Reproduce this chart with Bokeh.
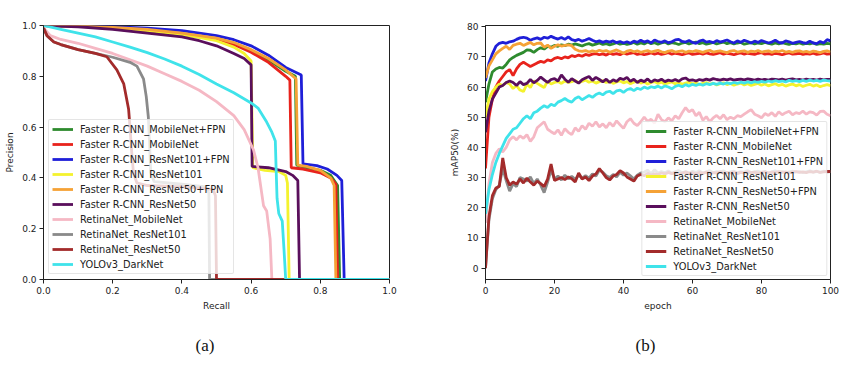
from bokeh.plotting import figure
from bokeh.layouts import row
from bokeh.models import Range1d, FixedTicker, Title
from bokeh.embed import file_html
from bokeh.resources import INLINE

names = ["Faster R-CNN_MobileNet+FPN", "Faster R-CNN_MobileNet", "Faster R-CNN_ResNet101+FPN",
         "Faster R-CNN_ResNet101", "Faster R-CNN_ResNet50+FPN", "Faster R-CNN_ResNet50",
         "RetinaNet_MobileNet", "RetinaNet_ResNet101", "RetinaNet_ResNet50", "YOLOv3_DarkNet"]
colors = ["#2e8b2e", "#e8231c", "#1f1fd8", "#f4f22e", "#f5a236", "#5a0f5c",
          "#f5b8c4", "#8a8a8a", "#a32b2b", "#3fe3ea"]

# ---------- (a) precision-recall curves ----------
pr_mobilenet_fpn_r = [0, 0.1, 0.2, 0.3, 0.4, 0.5, 0.55, 0.6, 0.65, 0.7, 0.728, 0.732, 0.76, 0.8, 0.83, 0.85, 0.856, 1.0]
pr_mobilenet_fpn_p = [1.0, 0.998, 0.992, 0.982, 0.968, 0.948, 0.93, 0.90, 0.865, 0.82, 0.80, 0.45, 0.44, 0.43, 0.41, 0.37, 0.0, 0.0]
pr_mobilenet_r = [0, 0.1, 0.2, 0.3, 0.4, 0.5, 0.55, 0.6, 0.65, 0.7, 0.712, 0.716, 0.75, 0.8, 0.83, 0.845, 0.85, 1.0]
pr_mobilenet_p = [1.0, 0.998, 0.99, 0.98, 0.965, 0.945, 0.925, 0.895, 0.855, 0.80, 0.785, 0.44, 0.435, 0.42, 0.40, 0.375, 0.0, 0.0]
pr_r101_fpn_r = [0, 0.1, 0.2, 0.3, 0.4, 0.45, 0.5, 0.55, 0.6, 0.65, 0.7, 0.73, 0.745, 0.75, 0.79, 0.82, 0.848, 0.862, 0.869, 1.0]
pr_r101_fpn_p = [1.0, 0.998, 0.995, 0.99, 0.98, 0.97, 0.96, 0.944, 0.92, 0.883, 0.835, 0.815, 0.805, 0.455, 0.448, 0.435, 0.41, 0.39, 0.0, 0.0]
pr_r101_r = [0, 0.1, 0.2, 0.3, 0.4, 0.5, 0.55, 0.58, 0.6, 0.605, 0.64, 0.68, 0.70, 0.705, 0.71, 1.0]
pr_r101_p = [1.0, 0.997, 0.99, 0.98, 0.965, 0.94, 0.915, 0.89, 0.86, 0.44, 0.43, 0.425, 0.41, 0.38, 0.0, 0.0]
pr_r50_fpn_r = [0, 0.1, 0.2, 0.3, 0.4, 0.5, 0.55, 0.6, 0.65, 0.7, 0.73, 0.735, 0.76, 0.8, 0.83, 0.84, 0.845, 1.0]
pr_r50_fpn_p = [1.0, 0.998, 0.993, 0.985, 0.97, 0.95, 0.933, 0.905, 0.87, 0.825, 0.79, 0.45, 0.445, 0.43, 0.40, 0.37, 0.0, 0.0]
pr_r50_r = [0, 0.1, 0.2, 0.3, 0.4, 0.45, 0.5, 0.55, 0.58, 0.6, 0.603, 0.65, 0.7, 0.72, 0.735, 0.74, 1.0]
pr_r50_p = [1.0, 0.995, 0.985, 0.97, 0.955, 0.94, 0.92, 0.89, 0.87, 0.845, 0.445, 0.44, 0.425, 0.41, 0.39, 0.0, 0.0]
pr_ret_mobilenet_r = [0, 0.02, 0.05, 0.1, 0.15, 0.2, 0.25, 0.3, 0.35, 0.4, 0.45, 0.5, 0.55, 0.58, 0.607, 0.62, 0.636, 0.645, 0.655, 0.66, 1.0]
pr_ret_mobilenet_p = [0.99, 0.96, 0.945, 0.93, 0.91, 0.89, 0.865, 0.84, 0.81, 0.78, 0.745, 0.70, 0.645, 0.59, 0.51, 0.44, 0.29, 0.27, 0.16, 0.0, 0.0]
pr_ret_r101_r = [0, 0.01, 0.03, 0.05, 0.1, 0.15, 0.2, 0.25, 0.27, 0.289, 0.297, 0.303, 0.307, 0.31, 0.32, 0.4, 0.47, 0.478, 0.48, 1.0]
pr_ret_r101_p = [0.99, 0.96, 0.935, 0.925, 0.905, 0.89, 0.875, 0.855, 0.84, 0.79, 0.72, 0.64, 0.52, 0.42, 0.385, 0.375, 0.365, 0.34, 0.0, 0.0]
pr_ret_r50_r = [0, 0.01, 0.03, 0.05, 0.1, 0.15, 0.183, 0.212, 0.232, 0.246, 0.25, 0.255, 0.26, 0.27, 0.3, 0.4, 0.49, 0.497, 0.5, 1.0]
pr_ret_r50_p = [0.99, 0.96, 0.935, 0.925, 0.905, 0.89, 0.877, 0.825, 0.77, 0.67, 0.60, 0.50, 0.42, 0.38, 0.37, 0.365, 0.355, 0.33, 0.0, 0.0]
pr_yolo_r = [0, 0.05, 0.1, 0.15, 0.2, 0.25, 0.3, 0.35, 0.4, 0.45, 0.5, 0.55, 0.6, 0.62, 0.645, 0.66, 0.67, 0.672, 0.675, 0.68, 0.69, 0.695, 0.70, 1.0]
pr_yolo_p = [1.0, 0.985, 0.97, 0.955, 0.935, 0.915, 0.893, 0.868, 0.84, 0.807, 0.77, 0.735, 0.695, 0.675, 0.62, 0.58, 0.545, 0.45, 0.32, 0.26, 0.23, 0.12, 0.0, 0.0]

pr_recall = [pr_mobilenet_fpn_r, pr_mobilenet_r, pr_r101_fpn_r, pr_r101_r, pr_r50_fpn_r,
             pr_r50_r, pr_ret_mobilenet_r, pr_ret_r101_r, pr_ret_r50_r, pr_yolo_r]
pr_precision = [pr_mobilenet_fpn_p, pr_mobilenet_p, pr_r101_fpn_p, pr_r101_p, pr_r50_fpn_p,
                pr_r50_p, pr_ret_mobilenet_p, pr_ret_r101_p, pr_ret_r50_p, pr_yolo_p]

ticks_a = [0, 0.2, 0.4, 0.6, 0.8, 1.0]
tick_labels_a = ["0.0", "0.2", "0.4", "0.6", "0.8", "1.0"]

# ---------- (b) mAP50 per epoch ----------
epochs = list(range(0, 101))
map_mobilenet_fpn = [
    55.0, 61.0, 65.0, 66.0, 66.5, 66.3, 67.5, 69.0, 69.8, 70.5,
    71.0, 71.5, 72.3, 72.2, 71.5, 72.4, 73.0, 72.6, 73.5, 73.2,
    73.8, 73.5, 74.0, 73.7, 74.2, 73.9, 74.3, 74.0, 73.6, 74.1,
    74.4, 73.9, 74.2, 74.6, 74.1, 74.4, 74.0, 74.3, 74.7, 74.2,
    74.5, 74.1, 74.4, 74.8, 74.2, 74.6, 74.3, 74.9, 74.4, 74.7,
    74.2, 74.6, 74.9, 74.3, 74.7, 74.5, 74.1, 74.6, 74.8, 74.3,
    74.6, 74.9, 74.4, 74.7, 74.2, 74.5, 74.8, 74.3, 74.6, 74.9,
    74.4, 74.7, 74.3, 74.6, 74.8, 74.2, 74.5, 74.7, 74.3, 74.6,
    74.4, 74.8, 74.5, 74.2, 74.6, 74.3, 74.7, 74.4, 74.1, 74.5,
    74.3, 74.6, 74.2, 74.5, 74.3, 74.6, 74.1, 74.4, 74.2, 74.5,
    74.3]
map_mobilenet = [
    33.0, 50.0, 56.0, 60.0, 62.0, 63.5, 65.0, 65.8, 63.8, 66.0,
    67.5, 68.2, 67.5, 66.8, 67.4, 68.0, 68.5, 68.2, 69.0, 68.7,
    69.5, 69.8, 69.4, 70.0, 69.7, 70.4, 70.1, 70.6, 70.2, 70.8,
    70.5, 70.9, 71.1, 70.7, 71.0, 70.6, 71.2, 70.8, 71.1, 70.7,
    71.3, 70.9, 71.2, 71.4, 70.8, 71.1, 70.7, 71.0, 71.3, 70.9,
    71.2, 70.8, 71.1, 71.4, 70.9, 71.2, 71.0, 70.7, 71.1, 71.3,
    70.8, 71.0, 71.2, 70.9, 71.3, 71.0, 70.8, 71.1, 71.4, 70.9,
    71.2, 71.0, 70.7, 71.1, 71.3, 70.9, 71.2, 71.0, 70.8, 71.2,
    71.4, 70.9, 71.1, 70.8, 71.2, 71.0, 70.7, 71.1, 71.3, 70.9,
    71.0, 71.2, 70.8, 71.1, 70.9, 71.2, 70.8, 71.0, 71.3, 70.9,
    71.0]
map_r101_fpn = [
    62.0, 68.0, 71.0, 73.5, 74.5, 74.8, 74.5, 75.0, 75.2, 75.8,
    76.3, 76.5, 76.2, 75.5, 76.0, 76.3, 75.8, 76.5, 76.2, 76.8,
    76.3, 75.9, 76.4, 75.8, 76.6, 75.7, 75.4, 75.8, 75.2, 75.6,
    76.1, 75.5, 75.0, 75.3, 74.8, 75.2, 74.9, 75.3, 74.7, 75.1,
    74.6, 75.0, 74.5, 75.2, 74.8, 75.5, 74.9, 75.3, 74.6, 75.6,
    75.1, 74.8, 75.3, 74.7, 75.0, 75.6, 75.8, 75.1, 74.9, 75.4,
    74.8, 74.5, 75.2, 75.6, 74.9, 75.1, 74.7, 75.4, 74.9, 75.2,
    75.6, 75.0, 74.6, 75.3, 74.8, 75.5, 75.1, 74.6, 75.2, 74.8,
    75.4, 75.0, 74.6, 74.9, 75.5, 74.8, 74.6, 75.3, 75.0, 74.5,
    74.8, 75.1, 74.7, 74.5, 75.2, 74.6, 74.4, 75.1, 74.6, 75.7,
    75.3]
map_r101 = [
    50.0, 56.0, 58.5, 60.0, 61.0, 60.5, 61.5, 61.0, 59.5, 60.5,
    59.0, 58.5, 61.0, 59.8, 62.0, 61.2, 60.5, 59.8, 62.0, 61.0,
    61.5, 61.8, 61.2, 62.0, 61.5, 61.8, 62.2, 61.4, 61.9, 62.3,
    61.6, 62.0, 61.3, 61.8, 62.1, 61.5, 61.9, 61.2, 61.7, 62.0,
    61.4, 61.8, 61.1, 61.6, 61.9, 61.3, 61.7, 61.0, 61.5, 61.8,
    61.2, 61.6, 61.0, 61.4, 61.7, 61.1, 61.5, 60.9, 61.3, 61.6,
    61.0, 61.4, 60.8, 61.2, 61.5, 60.9, 61.3, 60.7, 61.1, 61.4,
    60.8, 61.2, 60.6, 61.0, 61.3, 60.7, 61.1, 60.5, 60.9, 61.2,
    60.6, 61.0, 60.4, 60.8, 61.1, 60.5, 60.9, 60.3, 60.7, 61.0,
    60.4, 60.8, 60.2, 60.6, 60.9, 60.3, 60.7, 60.1, 60.5, 60.8,
    60.5]
map_r50_fpn = [
    63.0, 67.0, 69.0, 71.0, 72.0, 72.8, 73.5, 72.5, 73.8, 74.2,
    74.5, 73.8, 74.3, 74.8, 74.0, 74.5, 74.6, 73.2, 73.9, 72.8,
    73.5, 74.0, 73.6, 73.8, 74.0, 73.7, 72.5, 72.0, 71.8, 72.1,
    71.6, 72.0, 71.7, 72.2, 71.8, 72.1, 71.5, 71.9, 72.3, 71.8,
    71.2, 71.9, 72.2, 71.7, 72.0, 71.5, 71.8, 72.1, 71.6, 71.9,
    72.2, 71.7, 71.4, 71.9, 72.1, 71.6, 71.8, 72.0, 71.5, 71.9,
    71.7, 72.1, 71.8, 71.5, 71.9, 72.2, 71.6, 71.8, 72.0, 71.7,
    71.4, 71.9, 72.1, 71.6, 71.8, 72.0, 71.5, 71.9, 71.7, 72.1,
    71.6, 71.8, 72.0, 71.5, 71.9, 71.7, 72.1, 71.6, 71.8, 71.5,
    71.9, 72.0, 71.6, 71.8, 71.5, 71.9, 71.7, 71.4, 71.8, 72.0,
    71.6]
map_r50 = [
    45.0, 52.0, 56.0, 58.0, 60.0, 60.5, 61.5, 62.0, 61.5, 60.5,
    61.8, 60.8, 61.2, 62.5, 61.4, 62.2, 63.3, 62.4, 61.5, 62.5,
    62.8, 62.0, 64.0, 62.6, 61.6, 62.8, 62.0, 61.3, 62.4, 63.0,
    63.5, 62.2, 63.2, 62.5, 61.7, 62.6, 61.5, 62.4, 61.8, 62.9,
    62.5, 63.2, 61.9, 62.6, 61.5, 62.3, 61.8, 62.7, 61.6, 62.4,
    62.0, 62.6, 61.8, 62.3, 62.0, 62.5, 61.9, 62.7, 63.0, 62.2,
    62.4, 62.0, 62.5, 62.2, 62.6, 62.3, 62.8, 62.5, 62.3, 62.6,
    62.4, 62.7, 62.3, 62.5, 62.6, 62.4, 62.7, 62.5, 62.3, 62.6,
    62.4, 62.5, 62.3, 62.6, 62.5, 62.4, 62.6, 62.3, 62.5, 62.7,
    62.4, 62.5, 62.3, 62.6, 62.4, 62.5, 62.3, 62.6, 62.4, 62.5,
    62.5]
map_ret_mobilenet = [
    15.0, 28.0, 35.0, 38.0, 39.5, 38.5, 40.0, 42.5, 43.5, 42.5,
    43.8, 43.0, 44.2, 42.0, 43.5, 46.5, 47.5, 48.5, 46.0, 45.2,
    44.5, 45.8, 44.0, 46.2, 45.0, 44.2, 46.5, 45.3, 47.2, 46.0,
    48.0, 47.0, 48.5, 46.8, 47.8, 46.5, 48.2, 47.0, 48.8, 47.5,
    46.3, 48.5, 49.5, 48.0, 47.2, 48.5, 50.0, 48.6, 49.3, 48.0,
    51.0, 49.2, 48.5, 49.8, 48.8, 50.5, 49.5, 51.5, 53.2, 51.8,
    52.5, 50.5, 51.6, 49.0, 50.2, 48.5, 49.8, 50.6, 49.5, 50.8,
    49.2, 50.0, 49.5, 50.5, 50.2, 51.0, 51.8, 52.5, 51.0, 50.5,
    49.8, 51.2, 50.6, 51.5, 50.3, 51.8, 50.8, 51.5, 52.0, 50.8,
    51.5, 51.2, 52.0, 51.0, 51.8, 51.5, 50.7, 51.9, 52.0, 51.0,
    50.5]
map_ret_r101 = [
    0.0, 16.0, 23.0, 26.0, 27.5, 33.0, 29.0, 25.5, 28.0, 27.0,
    30.0, 29.5, 28.8, 30.2, 28.0, 29.5, 27.5, 25.0, 28.5, 32.5,
    29.5, 30.5, 29.2, 30.8, 29.6, 30.4, 29.4, 30.8, 29.8, 30.6,
    29.8, 31.2, 30.5, 32.5, 31.8, 30.6, 30.0, 31.0, 30.2, 31.8,
    30.8, 31.5, 30.6, 29.5, 30.8, 31.5, 31.8, 32.4, 31.2, 32.6,
    31.5, 32.0, 31.6, 32.2, 31.4, 31.9, 32.3, 31.6, 32.0, 31.5,
    32.1, 31.7, 32.2, 31.5, 31.9, 32.3, 31.6, 32.0, 31.8, 32.2,
    31.5, 31.9, 32.1, 31.6, 32.0, 31.8, 32.3, 31.6, 31.9, 32.1,
    31.7, 32.0, 31.5, 31.9, 32.2, 31.7, 32.0, 31.6, 31.9, 32.1,
    31.8, 32.0, 31.6, 31.9, 32.2, 31.8, 32.0, 31.7, 32.1, 31.9,
    32.0]
map_ret_r50 = [
    0.0, 17.0, 24.0, 26.5, 27.0, 36.5, 30.0, 27.5, 28.5, 27.8,
    29.5, 28.2, 29.8, 28.5, 27.5, 28.8, 28.0, 27.0, 29.5, 34.5,
    29.0, 29.5, 30.0, 29.3, 30.2, 29.6, 28.5, 31.5, 29.5, 30.2,
    29.0, 30.5, 31.2, 33.0, 31.5, 30.0, 29.2, 30.5, 31.0, 32.3,
    31.5, 30.2, 29.5, 28.8, 30.5, 31.0, 30.6, 31.4, 30.8, 31.2,
    31.0, 31.5, 31.2, 31.7, 31.3, 31.6, 31.1, 31.5, 31.8, 31.3,
    31.6, 31.2, 31.7, 31.4, 31.8, 31.3, 31.6, 31.5, 31.9, 31.4,
    31.7, 31.5, 31.8, 31.3, 31.7, 31.5, 31.9, 31.6, 31.8, 31.4,
    31.7, 31.9, 31.5, 31.8, 31.6, 32.0, 31.7, 31.9, 31.5, 31.8,
    32.0, 31.7, 31.9, 31.6, 32.0, 31.8, 32.1, 31.7, 31.9, 32.0,
    32.0]
map_yolo = [
    18.0, 26.0, 31.0, 35.0, 38.0, 40.5, 43.0, 44.5, 46.0, 46.5,
    48.0, 49.5, 50.5, 49.5, 51.5, 52.0, 53.0, 53.8, 53.2, 54.3,
    53.8, 55.0, 55.5, 56.2, 55.4, 55.0, 56.2, 56.8, 55.8, 56.5,
    57.2, 56.6, 57.5, 58.0, 57.4, 58.3, 58.6, 57.8, 58.7, 59.0,
    58.2, 59.1, 59.5, 58.8, 59.6, 59.2, 60.0, 59.5, 60.1, 59.8,
    60.3, 59.7, 60.4, 60.0, 59.4, 60.2, 60.6, 60.1, 60.8, 60.3,
    60.9, 60.5, 61.0, 60.6, 61.1, 60.8, 61.2, 60.9, 61.3, 61.0,
    61.4, 61.1, 61.5, 61.2, 61.6, 61.3, 61.7, 61.4, 61.8, 61.5,
    61.9, 61.6, 62.0, 61.7, 62.1, 61.8, 62.0, 61.7, 62.2, 61.9,
    62.1, 61.8, 62.2, 61.9, 62.3, 62.0, 62.2, 61.9, 62.3, 62.1,
    62.0]
map_series = [map_mobilenet_fpn, map_mobilenet, map_r101_fpn, map_r101, map_r50_fpn,
              map_r50, map_ret_mobilenet, map_ret_r101, map_ret_r50, map_yolo]

ticks_bx = [0, 20, 40, 60, 80, 100]
ticks_by = [0, 10, 20, 30, 40, 50, 60, 70, 80]

captions = ["(a)", "(b)"]

FONT = "DejaVu Sans"


def style(p, xlabel, ylabel):
    p.xgrid.visible = False
    p.ygrid.visible = False
    p.outline_line_color = "#222222"
    p.outline_line_width = 1
    p.background_fill_color = "white"
    p.border_fill_color = "white"
    for ax in (p.xaxis[0], p.yaxis[0]):
        ax.axis_line_color = "#222222"
        ax.major_tick_line_color = "#222222"
        ax.major_tick_in = 0
        ax.major_tick_out = 4
        ax.minor_tick_in = 0
        ax.minor_tick_out = 0
        ax.major_label_text_font = FONT
        ax.major_label_text_font_size = "9px"
        ax.major_label_text_color = "#222222"
        ax.axis_label_text_font = FONT
        ax.axis_label_text_font_size = "9px"
        ax.axis_label_text_font_style = "normal"
        ax.axis_label_text_color = "#222222"
        ax.major_label_standoff = 3
        ax.axis_label_standoff = 4
    p.xaxis.axis_label = xlabel
    p.yaxis.axis_label = ylabel


def style_legend(p, loc, margin):
    lg = p.legend[0]
    lg.location = loc
    lg.margin = margin
    lg.padding = 3
    lg.spacing = 3
    lg.glyph_width = 21
    lg.glyph_height = 12
    lg.label_height = 12
    lg.label_standoff = 7
    lg.label_text_font = FONT
    lg.label_text_font_size = "9.8px"
    lg.label_text_color = "#222222"
    lg.border_line_color = "#cccccc"
    lg.background_fill_alpha = 0.8
    lg.border_radius = 2


def add_caption(p, text, offset):
    t = Title(text=text, align="left", offset=offset, standoff=40,
              text_font="Liberation Serif", text_font_size="17px",
              text_font_style="normal", text_color="#111111")
    p.add_layout(t, "below")


# ---- figure (a)
pa = figure(width=430, height=374, output_backend="svg", toolbar_location=None,
            x_range=Range1d(0, 1), y_range=Range1d(0, 1),
            min_border_left=43, min_border_right=41, min_border_top=25, min_border_bottom=92)
for r, pr, c, n in zip(pr_recall, pr_precision, colors, names):
    pa.line(r, pr, line_color=c, line_width=2.8, legend_label=n)
style(pa, "Recall", "Precision")
pa.xaxis.ticker = FixedTicker(ticks=ticks_a)
pa.yaxis.ticker = FixedTicker(ticks=ticks_a)
pa.xaxis.major_label_overrides = dict(zip(ticks_a, tick_labels_a))
pa.yaxis.major_label_overrides = dict(zip(ticks_a, tick_labels_a))
style_legend(pa, "bottom_left", 5)
add_caption(pa, captions[0], 152)

# ---- figure (b)
pb = figure(width=430, height=374, output_backend="svg", toolbar_location=None,
            x_range=Range1d(0, 100), y_range=Range1d(-3.8, 80.4),
            min_border_left=55, min_border_right=30, min_border_top=25, min_border_bottom=94)
for s, c, n in zip(map_series, colors, names):
    pb.line(epochs, s, line_color=c, line_width=2.8, legend_label=n)
style(pb, "epoch", "mAP50(%)")
pb.xaxis.ticker = FixedTicker(ticks=ticks_bx)
pb.yaxis.ticker = FixedTicker(ticks=ticks_by)
style_legend(pb, "bottom_right", 3)
add_caption(pb, captions[1], 150)

layout = row(pa, pb)
open("out.html", "w").write(file_html(layout, INLINE))
